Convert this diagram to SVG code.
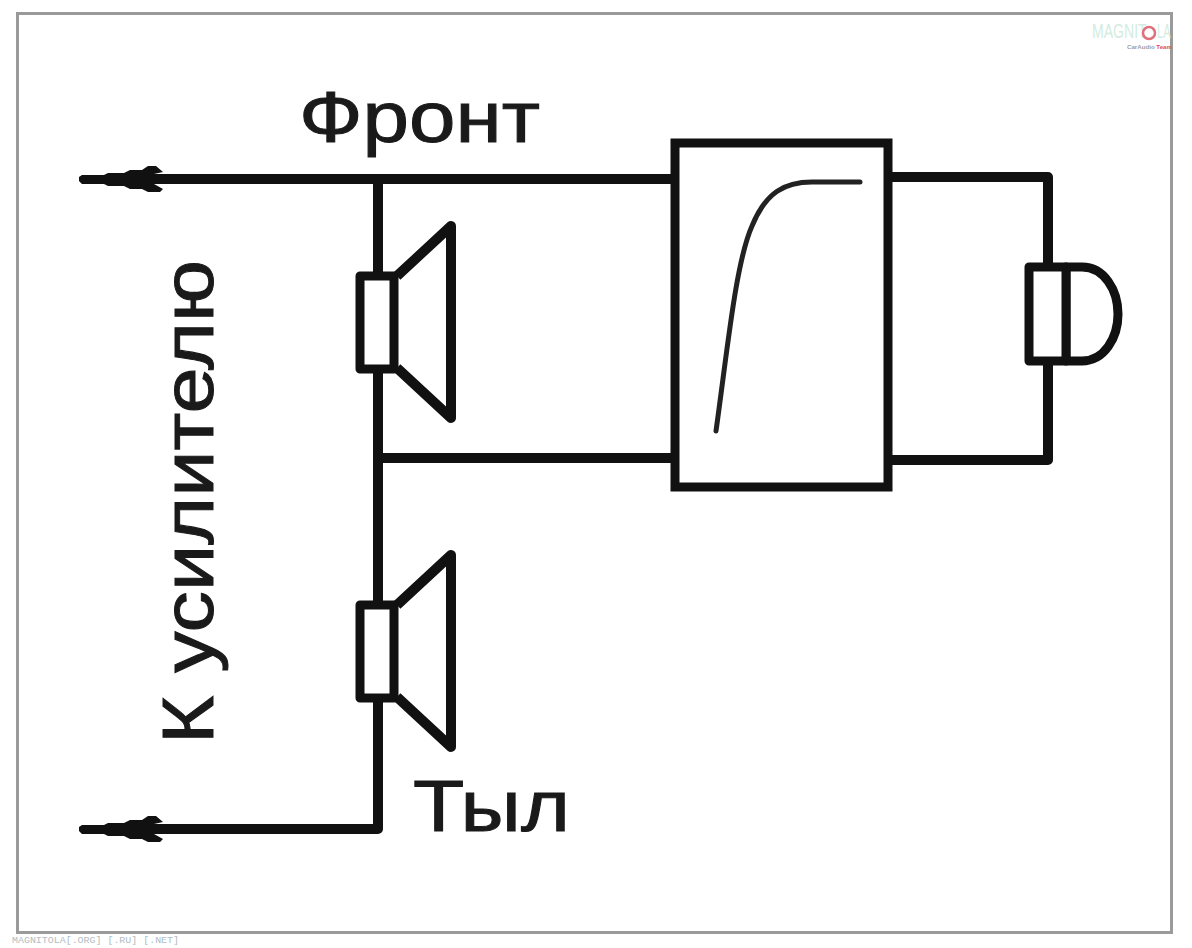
<svg xmlns="http://www.w3.org/2000/svg" width="1192" height="948" viewBox="0 0 1192 948">
<style>
.w{fill:none;stroke:#111;stroke-width:10;stroke-linejoin:round}
.b{fill:#fff;stroke:#111;stroke-width:9;stroke-linejoin:round}
.c{fill:none;stroke:#111;stroke-width:10;stroke-linejoin:round}
.t{font-family:"Liberation Sans",Arial,sans-serif;fill:#1a1a1a;stroke:#1a1a1a;stroke-width:1}
.p{fill:#111}
.wm{font-family:"Liberation Sans",sans-serif;font-size:21px;fill:#d2ece0}
</style>
<defs>
<g id="spk">
<rect class="b" x="360" y="0" width="34" height="93"/>
<path class="c" d="M397 0L451 -50V142L397 92"/>
</g>
<path id="plug" class="p" d="M82 -4H104L108 -6H124L130 -9H142L148 -13H156L163 -7L154 -5H200V5H154L163 10L160 13H148L142 10H130L124 7H108L104 5H82L79 2V-2Z"/>
</defs>
<rect id="frame" x="17.500" y="13.500" width="1154" height="919" fill="#fff" stroke="#9a9a9a" stroke-width="3"/>
<g id="connectors">
<path class="w" d="M150 179H672"/>
<path class="w" d="M150 829H378V179"/>
<path class="w" d="M378 458H672"/>
<path class="w" d="M888 177H1048V460H888"/>
<use href="#plug" transform="translate(0,179)"/>
<use href="#plug" transform="translate(0,829)"/>
</g>
<g id="front-speaker"><use href="#spk" y="276"/></g>
<g id="rear-speaker"><use href="#spk" y="605"/></g>
<g id="filter">
<rect x="675" y="143" width="213" height="344" fill="#fff" stroke="#111" stroke-width="9"/>
<path d="M716 431C728 345 736 262 752 226C766 192 785 182 812 182H860" fill="none" stroke="#222" stroke-width="5" stroke-linecap="round"/>
</g>
<g id="microphone">
<path class="b" d="M1066 267H1082C1104 267 1118 290 1118 314C1118 338 1104 361 1082 361H1066Z"/>
<rect class="b" x="1029" y="267" width="37" height="94"/>
</g>
<text id="label-front" class="t" x="299" y="142" font-size="73" textLength="241" lengthAdjust="spacingAndGlyphs">Фронт</text>
<text id="label-rear" class="t" x="413" y="831" font-size="73" textLength="157" lengthAdjust="spacingAndGlyphs">Тыл</text>
<text id="label-amp" class="t" transform="translate(213,744) rotate(-90)" font-size="73" textLength="484" lengthAdjust="spacingAndGlyphs">К усилителю</text>
<g id="watermark">
<text class="wm" transform="translate(1092,38) scale(0.67,1)">MAGNIT</text>
<text class="wm" transform="translate(1157,38) scale(0.53,1)">LA</text>
<circle cx="1149" cy="33" r="6" fill="none" stroke="#e0707a" stroke-width="2.500"/>
<text x="1127" y="49" font-family="Liberation Sans,sans-serif" font-size="6" font-weight="bold" fill="#9aa0a8" textLength="45" lengthAdjust="spacingAndGlyphs">CarAudio <tspan fill="#d9505a">Team</tspan></text>
</g>
<text id="footer" x="12" y="943" font-family="Liberation Mono,monospace" font-size="9.500" fill="#b0bdc2" textLength="167" lengthAdjust="spacingAndGlyphs">MAGNITOLA[.ORG] [.RU] [.NET]</text>
</svg>
